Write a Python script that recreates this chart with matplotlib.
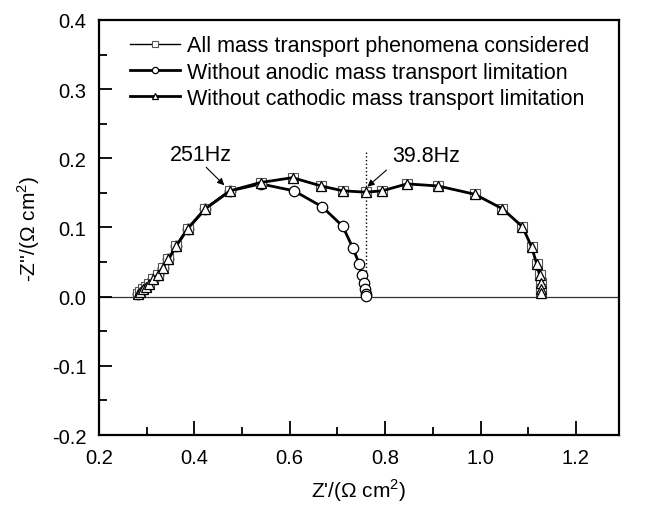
import matplotlib
matplotlib.use('Agg')
import matplotlib.pyplot as plt
from matplotlib.ticker import MultipleLocator, FormatStrFormatter

# shared arc (all mass transport & without cathodic limitation)
X_ALL = [0.283, 0.286, 0.292, 0.299, 0.306, 0.314, 0.324, 0.334, 0.346, 0.362, 0.386,
         0.423, 0.475, 0.539, 0.606, 0.666, 0.711, 0.760, 0.794, 0.846, 0.911, 0.988,
         1.046, 1.088, 1.107, 1.118, 1.124, 1.127, 1.127, 1.126]
Y_ALL = [0.004, 0.007, 0.011, 0.014, 0.019, 0.025, 0.032, 0.042, 0.054, 0.073, 0.098,
         0.127, 0.153, 0.165, 0.172, 0.160, 0.153, 0.151, 0.153, 0.163, 0.160, 0.148,
         0.127, 0.101, 0.072, 0.047, 0.031, 0.020, 0.011, 0.006]

X_ANODIC = [0.283, 0.286, 0.292, 0.299, 0.306, 0.314, 0.324, 0.334, 0.346, 0.362, 0.386,
            0.423, 0.475, 0.539, 0.609, 0.668, 0.711, 0.732, 0.746, 0.752, 0.755, 0.758,
            0.760, 0.760]
Y_ANODIC = [0.004, 0.007, 0.011, 0.014, 0.019, 0.025, 0.032, 0.042, 0.054, 0.073, 0.098,
            0.127, 0.153, 0.163, 0.153, 0.130, 0.102, 0.071, 0.047, 0.032, 0.020, 0.011,
            0.004, 0.001]

X_CATHODIC = X_ALL
Y_CATHODIC = Y_ALL

LABELS = ['All mass transport phenomena considered',
          'Without anodic mass transport limitation',
          'Without cathodic mass transport limitation']

# frequency annotations: text, text position, arrow start, arrow tip
FREQ_TEXT = ['251Hz', '39.8Hz']
FREQ_TEXT_XY = [(0.413, 0.206), (0.886, 0.204)]
ARROW_FROM = [(0.425, 0.187), (0.803, 0.183)]
ARROW_TO = [(0.463, 0.161), (0.763, 0.159)]

plt.rcParams['font.family'] = ['Liberation Sans', 'DejaVu Sans']
plt.rcParams['mathtext.fontset'] = 'custom'
plt.rcParams['mathtext.rm'] = 'Liberation Sans'

fig = plt.figure(figsize=(6.46, 5.10), dpi=100)
ax = fig.add_axes([0.153, 0.145, 0.805, 0.814])

ax.axhline(0, color='#333333', lw=0.9, zorder=1)
ax.plot([0.760, 0.760], [0.0, 0.212], ls=':', color='black', lw=1.0, zorder=1)

ax.plot(X_ALL, Y_ALL, '-', marker='s', color='black', lw=1.0, ms=6.5,
        mfc='white', mec='#555555', mew=0.8, label=LABELS[0], zorder=3)
ax.plot(X_ANODIC, Y_ANODIC, '-', marker='o', color='black', lw=2.0, ms=7.5,
        mfc='white', mec='black', mew=0.9, label=LABELS[1], zorder=2)
ax.plot(X_CATHODIC, Y_CATHODIC, '-', marker='^', color='black', lw=2.0, ms=7.5,
        mfc='white', mec='black', mew=0.9, label=LABELS[2], zorder=4)

for txt, txy, a0, a1 in zip(FREQ_TEXT, FREQ_TEXT_XY, ARROW_FROM, ARROW_TO):
    ax.text(txy[0], txy[1], txt, ha='center', va='center', fontsize=15.5)
    ax.annotate('', xy=a1, xytext=a0,
                arrowprops=dict(arrowstyle='-|>', color='black', lw=0.8,
                                mutation_scale=10, shrinkA=0, shrinkB=0), zorder=5)

ax.set_xlim(0.2, 1.29)
ax.set_ylim(-0.2, 0.4)
ax.xaxis.set_major_locator(MultipleLocator(0.2))
ax.xaxis.set_minor_locator(MultipleLocator(0.1))
ax.yaxis.set_major_locator(MultipleLocator(0.1))
ax.yaxis.set_minor_locator(MultipleLocator(0.05))
ax.xaxis.set_major_formatter(FormatStrFormatter('%.1f'))
ax.yaxis.set_major_formatter(FormatStrFormatter('%.1f'))
ax.tick_params(which='both', direction='in', top=False, right=False, labelsize=14.5)
ax.tick_params(axis='x', which='major', length=10, width=1.3, pad=9)
ax.tick_params(axis='x', which='minor', length=6, width=1.3)
ax.tick_params(axis='y', which='major', length=9, width=1.3, pad=9)
ax.tick_params(axis='y', which='minor', length=6, width=1.3)
for s in ax.spines.values():
    s.set_linewidth(1.6)

ax.set_xlabel("Z'/($\\Omega$ cm$^2$)", fontsize=15, labelpad=7)
ax.set_ylabel("-Z''/($\\Omega$ cm$^2$)", fontsize=15, labelpad=7)

ax.legend(loc='upper left', bbox_to_anchor=(0.06, 0.963), frameon=False, fontsize=15.5,
          handlelength=2.3, handletextpad=0.35, labelspacing=0.25, borderpad=0,
          borderaxespad=0, markerscale=0.6)

plt.savefig('out.png', dpi=100)
plt.close()
